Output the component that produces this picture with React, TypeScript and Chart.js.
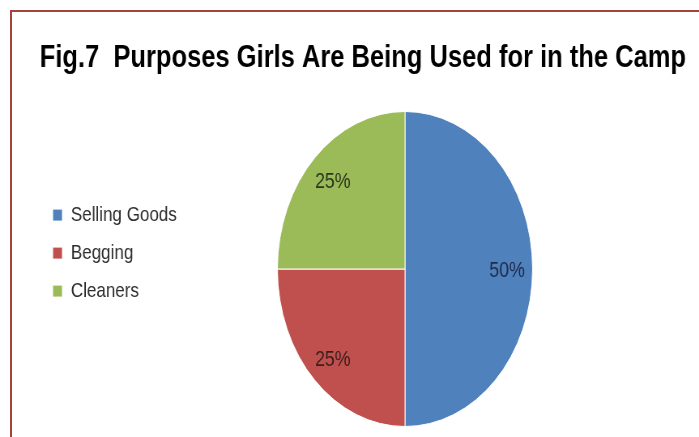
import React, { useEffect, useRef } from 'react';
import { Chart, registerables, layouts } from 'chart.js';

Chart.register(...registerables);

const categories = ['Selling Goods', 'Begging', 'Cleaners'];
const values = [50, 25, 25];
const sliceColors = ['#4f81bd', '#c0504d', '#9bbb59'];
const labelColors = ['#1f2b4a', '#3a1e1e', '#2b361c'];
const titleText = 'Fig.7  Purposes Girls Are Being Used for in the Camp';

const FONT = '"Liberation Sans", Arial, sans-serif';

const pctPlugin = {
  id: 'pctLabels',
  afterDatasetsDraw(chart: any) {
    const ctx = chart.ctx;
    const meta = chart.getDatasetMeta(0);
    const total = values.reduce((a, b) => a + b, 0);
    ctx.save();
    ctx.font = `22px ${FONT}`;
    ctx.textAlign = 'center';
    ctx.textBaseline = 'middle';
    meta.data.forEach((arc: any, i: number) => {
      const p = arc.getProps(['x', 'y', 'startAngle', 'endAngle', 'outerRadius'], true);
      const mid = (p.startAngle + p.endAngle) / 2;
      const r = p.outerRadius * 0.8;
      ctx.fillStyle = labelColors[i];
      ctx.fillText(Math.round((values[i] / total) * 100) + '%', p.x + Math.cos(mid) * r, p.y + Math.sin(mid) * r + 2);
    });
    ctx.restore();
  },
};

// An empty box on the right so that the pie sits where it does in the reference
const spacerPlugin = {
  id: 'rightSpacer',
  beforeInit(chart: any) {
    const box: any = {
      position: 'right',
      weight: 0,
      fullSize: false,
      options: {},
      left: 0,
      top: 0,
      right: 0,
      bottom: 0,
      width: 0,
      height: 0,
      isHorizontal() {
        return false;
      },
      update(_maxWidth: number, maxHeight: number) {
        const lw = chart.legend ? chart.legend.width : 0;
        this.width = Math.max(lw - 104, 0);
        this.height = maxHeight;
      },
      draw() {},
    };
    layouts.addBox(chart, box);
  },
};

export default function App() {
  const ref = useRef<HTMLCanvasElement | null>(null);
  useEffect(() => {
    if (!ref.current) return;
    const chart = new Chart(ref.current, {
      type: 'pie',
      data: {
        labels: categories,
        datasets: [
          {
            data: values,
            backgroundColor: sliceColors,
            borderColor: '#ffffff',
            borderWidth: 1,
          },
        ],
      },
      options: {
        responsive: false,
        animation: false,
        layout: { padding: { left: 48, right: 15, top: 0, bottom: 10 } },
        plugins: {
          tooltip: { enabled: false },
          title: {
            display: true,
            text: titleText,
            color: '#000000',
            font: { family: FONT, size: 31.5, weight: 'bold', lineHeight: 1.2 },
            padding: { top: 39.6, bottom: 33.6 },
          },
          legend: {
            position: 'left',
            title: { display: true, text: '', padding: 0, font: { size: 66, lineHeight: 1.2 } },
            labels: {
              color: '#2e2e2e',
              font: { family: FONT, size: 21 },
              boxWidth: 12,
              boxHeight: 12,
              padding: 17,
            },
          },
        },
      },
      plugins: [pctPlugin, spacerPlugin],
    });
    return () => chart.destroy();
  }, []);

  return (
    <div style={{ position: 'absolute', left: 0, top: 0, width: 699, height: 437, overflow: 'hidden', background: '#ffffff' }}>
      <canvas
        ref={ref}
        width={863}
        height={437}
        style={{ width: '699px', height: '437px', display: 'block' }}
      />
      <div
        style={{
          position: 'absolute',
          left: 10,
          top: 10,
          width: 720,
          height: 460,
          borderTop: '2px solid #a5443e',
          borderLeft: '2px solid #a5443e',
          pointerEvents: 'none',
        }}
      />
    </div>
  );
}
